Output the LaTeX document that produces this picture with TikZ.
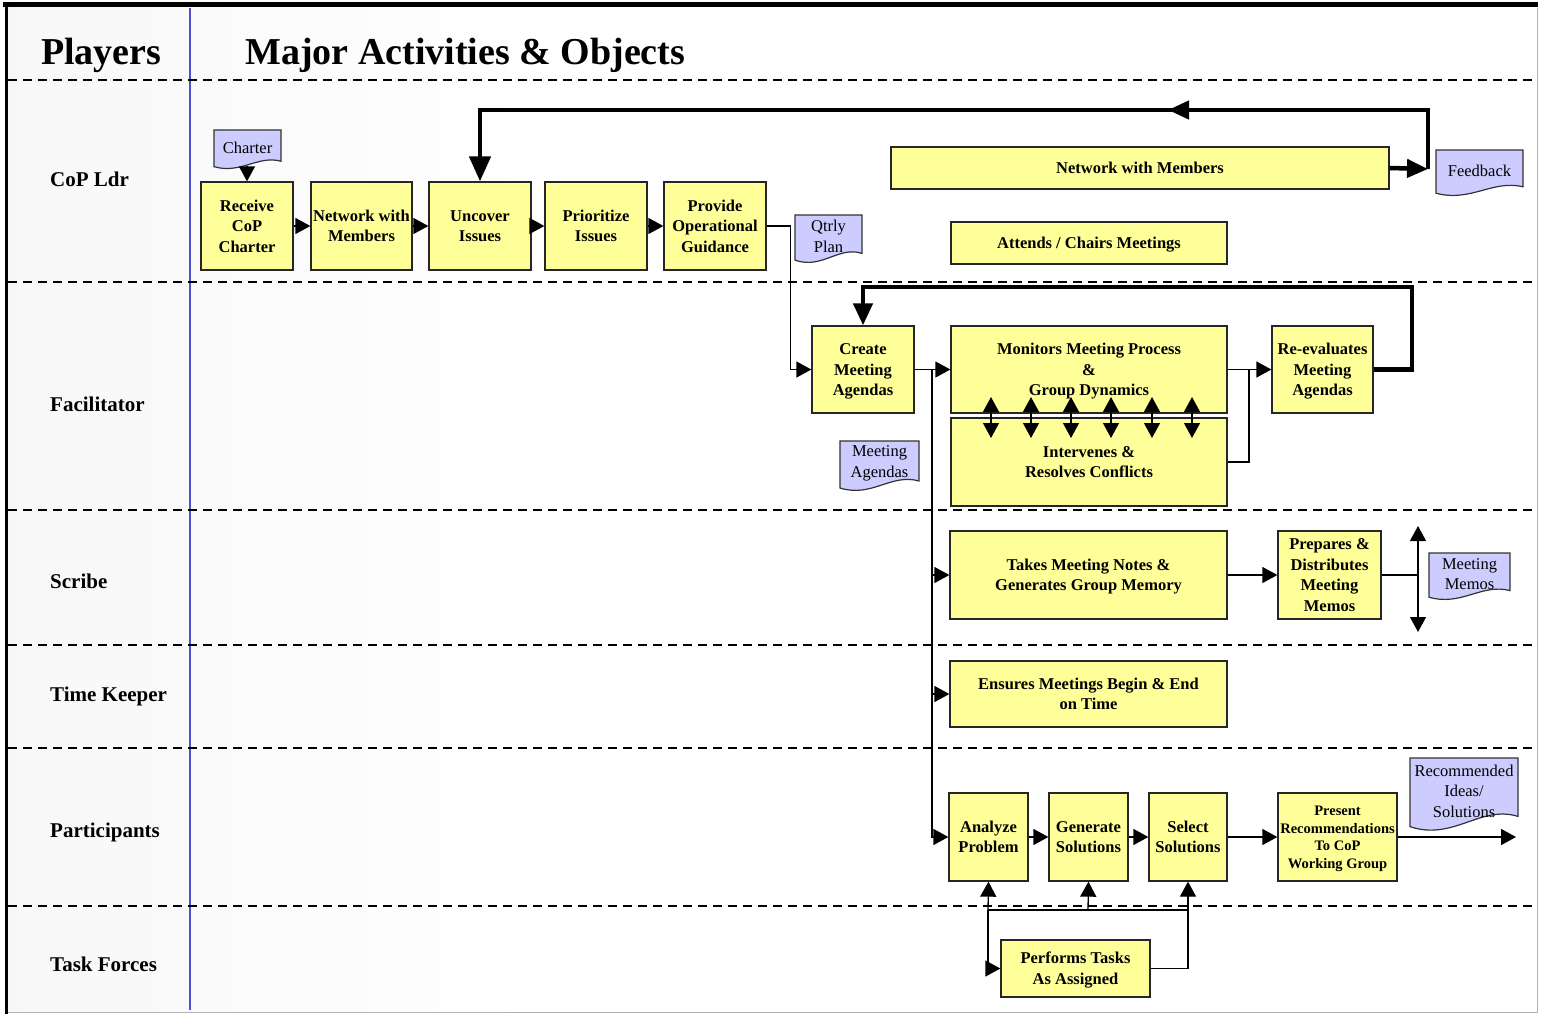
\documentclass[tikz,border=0pt]{standalone}
\usepackage{fontspec}
\setmainfont{Liberation Serif}
\usetikzlibrary{arrows.meta}
\definecolor{boxyellow}{HTML}{FFFF99}
\definecolor{doclav}{HTML}{CCCCFF}
\definecolor{laneblue}{HTML}{5050D0}
\newcommand\bxfont{\bfseries\fontsize{16.5}{20.5}\selectfont}
\newcommand\smbxfont{\bfseries\fontsize{14.5}{17.6}\selectfont}
\newcommand\dcfont{\fontsize{16.5}{20.5}\selectfont}
\newcommand\lanefont{\bfseries\fontsize{21}{25}\selectfont}
\newcommand\headfont{\bfseries\fontsize{38}{44}\selectfont}
\newcommand\topstr{\rule{0pt}{15.3pt}}
\newcommand\botstr{\rule[-4.1pt]{0pt}{4.1pt}}
\newcommand\topstrs{\rule{0pt}{13.5pt}}
\newcommand\botstrs{\rule[-3.6pt]{0pt}{3.6pt}}
% name, x0, ytop, x1, ydip, text
\newcommand\docbox[6]{%
  \draw[docline] (#2,{#5-0.06*(#5-#3)}) -- (#2,#3) -- (#4,#3) -- (#4,{#5-0.2*(#5-#3)})
    .. controls ({#4-0.35*(#4-#2)},{#5-0.36*(#5-#3)}) and ({#2+0.4*(#4-#2)},{#5+0.14*(#5-#3)}) ..
    (#2,{#5-0.06*(#5-#3)}) -- cycle;
  \node[doctext] (#1) at ({(#2+#4)/2},{#3+0.45*(#5-#3)}) {#6};}
\begin{document}
\begin{tikzpicture}[x=1pt,y=-1pt,
  >={Triangle[length=15pt,width=16pt]},
  box/.style={draw=black!85, line width=1.3pt, fill=boxyellow, inner sep=0pt, align=center, font=\bxfont},
  docline/.style={draw=black!80, line width=1.2pt, fill=doclav},
  doctext/.style={inner sep=0pt, align=center, font=\dcfont},
  lane/.style={anchor=west, inner sep=0pt, font=\lanefont},
  head/.style={anchor=west, inner sep=0pt, font=\headfont},
  sep/.style={line width=2.6pt, dash pattern=on 9pt off 6pt},
  conn/.style={line width=1.3pt},
  arr/.style={conn, ->},
  darr/.style={conn, <->},
  heavy/.style={line width=4.5pt},
  bigtip/.style={heavy, -{Triangle[length=25pt,width=21pt]}},
  midtip/.style={heavy, -{Triangle[length=21pt,width=18pt]}}
]
\useasboundingbox (0,0) rectangle (1544,1014);
% faint texture of the players column
\shade[left color=black!3, right color=white] (8,8) rectangle (540,1011);
% frame
\draw[black!30, line width=1pt] (1537,8) -- (1537,1012) -- (8,1012);
\draw[line width=5pt] (3,5) -- (1538,5);
\draw[line width=3pt] (6,3) -- (6,1014);
\draw[laneblue, line width=1.5pt] (190,8) -- (190,1010);
% lane separators
\foreach \yy in {80,282,510,645,748,906} \draw[sep] (8,\yy) -- (1532,\yy);

% headers
\node[head] (hplayers) at (41,55) {Players};
\node[head] (hmajor) at (245,55) {Major Activities \& Objects};

% lane labels
\node[lane] (lcop) at (50,179) {CoP Ldr};
\node[lane] (lfac) at (50,404) {Facilitator};
\node[lane] (lscr) at (50,581) {Scribe};
\node[lane] (ltime) at (50,696) {Time Keeper};
\node[lane] (lpart) at (50,832) {Participants};
\node[lane] (ltask) at (50,964) {Task Forces};

% CoP Ldr boxes
\node[box, minimum width=92pt, minimum height=88pt] (recv) at (247,226) {\topstr Receive\\CoP\\Charter\botstr};
\node[box, minimum width=101pt, minimum height=88pt] (netwa) at (361.5,226) {\topstr Network with\\Members\botstr};
\node[box, minimum width=102pt, minimum height=88pt] (uncov) at (480,226) {\topstr Uncover\\Issues\botstr};
\node[box, minimum width=102pt, minimum height=88pt] (prio) at (596,226) {\topstr Prioritize\\Issues\botstr};
\node[box, minimum width=102pt, minimum height=88pt] (prov) at (715,226) {\topstr Provide\\Operational\\Guidance\botstr};
\node[box, minimum width=498pt, minimum height=42pt] (netwb) at (1140,168) {\topstr Network with Members\botstr};
\node[box, minimum width=276pt, minimum height=42pt] (attend) at (1089,243) {\topstr Attends / Chairs Meetings\botstr};

% Facilitator
\node[box, minimum width=102pt, minimum height=87pt] (create) at (863,369.5) {\topstr Create\\Meeting\\Agendas\botstr};
\node[box, minimum width=276pt, minimum height=87pt] (monit) at (1089,369.5) {\topstr Monitors Meeting Process\\\&\\Group Dynamics\botstr};
\node[box, minimum width=276pt, minimum height=88pt] (interv) at (1089,462) {\topstr Intervenes \&\\Resolves Conflicts\botstr};
\node[box, minimum width=101pt, minimum height=87pt] (reeval) at (1322.5,369.5) {\topstr Re-evaluates\\Meeting\\Agendas\botstr};

% Scribe
\node[box, minimum width=277pt, minimum height=88pt] (takes) at (1088.5,575) {\topstr Takes Meeting Notes \&\\Generates Group Memory\botstr};
\node[box, minimum width=103pt, minimum height=88pt] (prep) at (1329.5,575) {\topstr Prepares \&\\Distributes\\Meeting\\Memos\botstr};

% Time keeper
\node[box, minimum width=277pt, minimum height=66pt] (ensure) at (1088.5,694) {\topstr Ensures Meetings Begin \& End\\on Time\botstr};

% Participants
\node[box, minimum width=79pt, minimum height=88pt] (analyze) at (988.5,837) {\topstr Analyze\\Problem\botstr};
\node[box, minimum width=79pt, minimum height=88pt] (gen) at (1088.5,837) {\topstr Generate\\Solutions\botstr};
\node[box, minimum width=78pt, minimum height=88pt] (select) at (1188,837) {\topstr Select\\Solutions\botstr};
\node[box, minimum width=119pt, minimum height=88pt, font=\smbxfont] (present) at (1337.5,837) {\topstrs Present\\Recommendations\\To CoP\\Working Group\botstrs};

% Task forces
\node[box, minimum width=149pt, minimum height=57pt] (perform) at (1075.5,968.5) {\topstr Performs Tasks\\As Assigned\botstr};

% documents
\docbox{charter}{214}{130}{281}{169}{Charter}
\docbox{qtrly}{795}{215}{862}{263}{Qtrly\\Plan}
\docbox{feedback}{1436}{150}{1523}{196}{Feedback}
\docbox{magenda}{840}{441}{919}{491}{Meeting\\Agendas}
\docbox{mmemo}{1429}{553}{1510}{600}{Meeting\\Memos}
\docbox{recomm}{1410}{758}{1518}{831}{Recommended\\Ideas/\\Solutions}

% coordinates
\coordinate (charterb) at (247,166);
\coordinate (fbc) at (1428,169);
\coordinate (toploopmid) at (1168,110);
\coordinate (toploopstart) at (1185,110);
\coordinate (reloop) at (1412,287);
\coordinate (facline) at (932,370);
\coordinate (monj) at (1249,370);
\coordinate (memoj) at (1418,575);
\coordinate (memotop) at (1418,526);
\coordinate (memobot) at (1418,632);
\coordinate (outend) at (1516,837);
\coordinate (tfj) at (988,910);
\coordinate (tfm) at (1088,910);
\coordinate (tfr) at (1188,910);

% CoP Ldr connectors
\draw[arr] (charterb) -- (recv.north);
\draw[arr] (recv) -- (netwa);
\draw[arr] (netwa) -- (uncov);
\draw[arr] (uncov) -- (prio);
\draw[arr] (prio) -- (prov);
\draw[arr] (prov.east) -- ++(24,0) |- (create.west);
\draw[midtip] (netwb.east) -- (fbc);
\draw[midtip] (fbc) |- (toploopmid);
\draw[bigtip] (toploopstart) -| (uncov.north);

% Facilitator connectors
\draw[arr] (create.east) -- (monit.west);
\draw[arr] (facline) |- (analyze.west);
\draw[arr] (facline |- takes.west) -- (takes.west);
\draw[arr] (facline |- ensure.west) -- (ensure.west);
\draw[arr] (monit.east) -- (reeval.west);
\draw[conn] (interv.east) -| (monj);
\draw[heavy, -{Triangle[length=22pt,width=19pt]}] (reeval.east) -| (reloop) -| (create.north);
\foreach \xx in {991,1031,1071,1111,1152,1192}
  \draw[darr] (\xx,397) -- (\xx,438);

% Scribe connectors
\draw[arr] (takes.east) -- (prep.west);
\draw[conn] (prep.east) -- (memoj);
\draw[darr] (memotop) -- (memobot);

% Participants connectors
\draw[arr] (analyze) -- (gen);
\draw[arr] (gen) -- (select);
\draw[arr] (select) -- (present);
\draw[arr] (present.east) -- (outend);

% Task forces connectors
\draw[arr] (tfj) -- (analyze.south);
\draw[arr] (tfm) -- (gen.south);
\draw[conn] (tfj) -- (tfr);
\draw[arr] (tfj) |- (perform.west);
\draw[arr] (perform.east) -| (select.south);
\end{tikzpicture}
\end{document}
